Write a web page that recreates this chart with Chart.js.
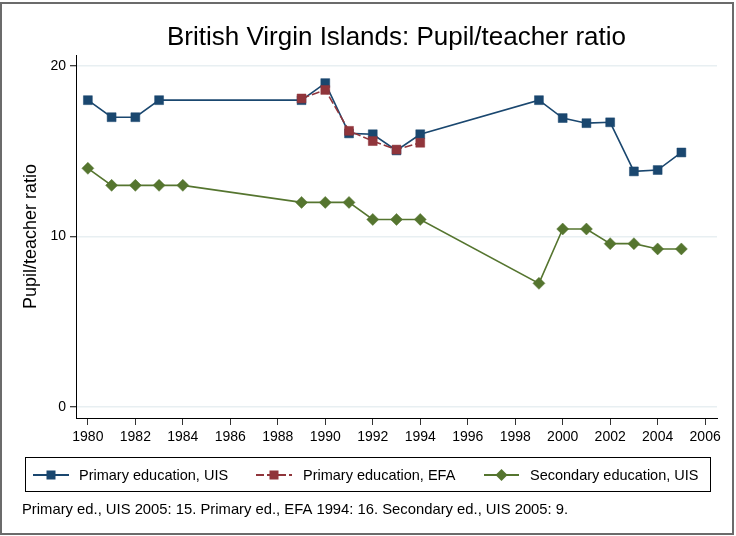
<!DOCTYPE html>
<html>
<head>
<meta charset="utf-8">
<script src="https://cdn.jsdelivr.net/npm/chart.js@4/dist/chart.umd.min.js"></script>
<style>
html,body{margin:0;padding:0;background:#fff;}
canvas{display:block;}
</style>
</head>
<body>
<canvas id="c" width="736" height="536"></canvas>
<script>
const titleText = "British Virgin Islands: Pupil/teacher ratio";
const yAxisTitle = "Pupil/teacher ratio";
const footnote = "Primary ed., UIS 2005: 15. Primary ed., EFA 1994: 16. Secondary ed., UIS 2005: 9.";

const xTickLabels = [1980,1982,1984,1986,1988,1990,1992,1994,1996,1998,2000,2002,2004,2006];
const yTickLabels = [0,10,20];

const primaryUisYears  = [1980,1981,1982,1983,1989,1990,1991,1992,1993,1994,1999,2000,2001,2002,2003,2004,2005];
const primaryUisValues = [18,17,17,18,18,19,16.05,16,15.05,16,18,16.95,16.65,16.7,13.82,13.9,14.93];

const primaryEfaYears  = [1989,1990,1991,1992,1993,1994];
const primaryEfaValues = [18.1,18.6,16.2,15.6,15.1,15.5];

const secondaryUisYears  = [1980,1981,1982,1983,1984,1989,1990,1991,1992,1993,1994,1999,2000,2001,2002,2003,2004,2005];
const secondaryUisValues = [14,13,13,13,13,12,12,12,11,11,11,7.25,10.44,10.44,9.58,9.58,9.27,9.27];

const seriesLabels = ["Primary education, UIS","Primary education, EFA","Secondary education, UIS"];
const seriesColors = ["#1a476f","#90353b","#55752f"];

function pts(xs, ys){ return xs.map((x,i)=>({x:x,y:ys[i]})); }

const FONT = "'Liberation Sans', Arial, Helvetica, sans-serif";

const extras = {
  id:'extras',
  afterDraw(chart){
    const ctx = chart.ctx;
    const ca = chart.chartArea;
    ctx.save();
    // frame
    ctx.strokeStyle = '#6b6b6b';
    ctx.lineWidth = 2;
    ctx.strokeRect(1,3,732,531);
    // title
    ctx.fillStyle = '#000';
    ctx.font = '26px ' + FONT;
    ctx.textAlign = 'center';
    ctx.textBaseline = 'middle';
    ctx.fillText(titleText, (ca.left+ca.right)/2, 38);
    // y title
    ctx.save();
    ctx.translate(31, (ca.top+ca.bottom)/2);
    ctx.rotate(-Math.PI/2);
    ctx.font = '18px ' + FONT;
    ctx.fillText(yAxisTitle, 0, 0);
    ctx.restore();
    // legend box
    ctx.strokeStyle = '#000';
    ctx.lineWidth = 1;
    ctx.strokeRect(25.5,457.5,685,34);
    const ly = 475;
    const items = [
      {x0:33, x1:69, tx:79},
      {x0:256, x1:292, tx:303},
      {x0:484, x1:519, tx:530}
    ];
    chart.data.datasets.forEach((ds, i)=>{
      const it = items[i];
      ctx.strokeStyle = ds.borderColor;
      ctx.lineWidth = 2;
      ctx.setLineDash(ds.borderDash || []);
      ctx.beginPath();
      ctx.moveTo(it.x0, ly); ctx.lineTo(it.x1, ly);
      ctx.stroke();
      ctx.setLineDash([]);
      ctx.fillStyle = ds.pointBackgroundColor;
      const cx = (it.x0+it.x1)/2;
      if (ds.pointStyle === 'rectRot'){
        ctx.beginPath();
        ctx.moveTo(cx, ly-6); ctx.lineTo(cx+6, ly); ctx.lineTo(cx, ly+6); ctx.lineTo(cx-6, ly);
        ctx.closePath(); ctx.fill();
      } else {
        ctx.fillRect(cx-4.5, ly-4.5, 9, 9);
      }
      ctx.fillStyle = '#000';
      ctx.font = '14.5px ' + FONT;
      ctx.textAlign = 'left';
      ctx.textBaseline = 'middle';
      ctx.fillText(ds.label, it.tx, ly+1);
    });
    // footnote
    ctx.fillStyle = '#000';
    ctx.font = '14.8px ' + FONT;
    ctx.textAlign = 'left';
    ctx.textBaseline = 'middle';
    ctx.fillText(footnote, 22, 510);
    ctx.restore();
  }
};

new Chart(document.getElementById('c'), {
  type:'line',
  data:{
    datasets:[
      {label:seriesLabels[0], data:pts(primaryUisYears, primaryUisValues), borderColor:seriesColors[0], backgroundColor:seriesColors[0],
       pointBackgroundColor:seriesColors[0], pointBorderColor:seriesColors[0], pointStyle:'rect', pointRadius:6.3, pointBorderWidth:0.5,
       borderWidth:1.6, order:1, tension:0},
      {label:seriesLabels[1], data:pts(primaryEfaYears, primaryEfaValues), borderColor:seriesColors[1], backgroundColor:seriesColors[1],
       pointBackgroundColor:seriesColors[1], pointBorderColor:seriesColors[1], pointStyle:'rect', pointRadius:6.3, pointBorderWidth:0.5,
       borderWidth:1.6, borderDash:[8,3], order:0, tension:0},
      {label:seriesLabels[2], data:pts(secondaryUisYears, secondaryUisValues), borderColor:seriesColors[2], backgroundColor:seriesColors[2],
       pointBackgroundColor:seriesColors[2], pointBorderColor:seriesColors[2], pointStyle:'rectRot', pointRadius:6, pointBorderWidth:0.5,
       borderWidth:1.6, order:2, tension:0}
    ]
  },
  options:{
    responsive:false,
    animation:false,
    devicePixelRatio:1,
    layout:{padding:{left:0,right:19,top:55,bottom:0}},
    plugins:{legend:{display:false}, tooltip:{enabled:false}, title:{display:false}},
    scales:{
      x:{
        type:'linear', min:1979.5, max:2006.5,
        afterBuildTicks(s){ s.ticks = xTickLabels.map(v=>({value:v})); },
        afterFit(s){ s.height = 118; },
        grid:{drawOnChartArea:false, drawTicks:true, tickLength:7, tickColor:'#333', tickWidth:1},
        border:{display:true, color:'#000', width:1},
        ticks:{font:{family:FONT, size:14}, color:'#000', padding:4, maxRotation:0, autoSkip:false,
               callback:(v)=>String(v)}
      },
      y:{
        type:'linear', min:-0.65, max:20.65,
        afterBuildTicks(s){ s.ticks = yTickLabels.map(v=>({value:v})); },
        afterFit(s){ s.width = 76; },
        grid:{drawOnChartArea:true, color:'#e8eff2', lineWidth:1.5, drawTicks:true, tickLength:6, tickColor:'#000', tickWidth:1},
        border:{display:true, color:'#000', width:1},
        ticks:{font:{family:FONT, size:14}, color:'#000', padding:4, autoSkip:false,
               callback:(v)=>String(v)}
      }
    }
  },
  plugins:[extras]
});
</script>
</body>
</html>
